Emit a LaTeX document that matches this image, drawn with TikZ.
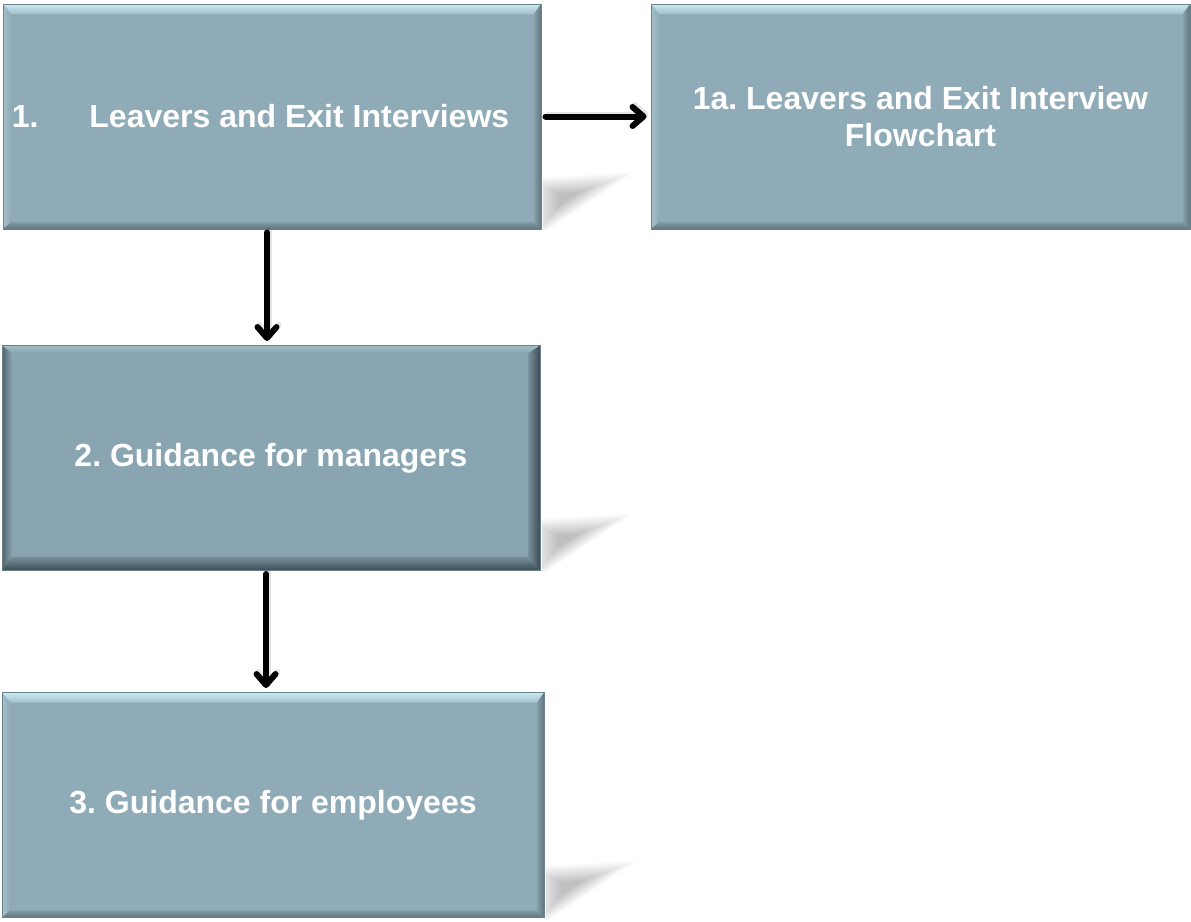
\documentclass[tikz,border=0pt]{standalone}
\usepackage{fontspec}
\setmainfont{Liberation Sans}
\usetikzlibrary{arrows.meta,calc,backgrounds}

\definecolor{boxface}{RGB}{143,171,183}
\definecolor{boxfacedk}{RGB}{137,165,177}
\definecolor{boxline}{RGB}{106,130,140}

% bevel edges of a stage box; widths: top, left, bottom, right
\newcommand\drawbevels[4]{%
	\coordinate (pnw) at (path picture bounding box.north west);
	\coordinate (pne) at (path picture bounding box.north east);
	\coordinate (psw) at (path picture bounding box.south west);
	\coordinate (pse) at (path picture bounding box.south east);
	\shade[top color=bevTo, bottom color=bevTi] (pnw) -- (pne) -- ($(pne)+(-#4,#1)$) -- ($(pnw)+(#2,#1)$) -- cycle;
	\shade[left color=bevLo, right color=bevLi] (pnw) -- ($(pnw)+(#2,#1)$) -- ($(psw)+(#2,-#3)$) -- (psw) -- cycle;
	\shade[top color=bevBi, bottom color=bevBo] (psw) -- ($(psw)+(#2,-#3)$) -- ($(pse)+(-#4,-#3)$) -- (pse) -- cycle;
	\shade[left color=bevRi, right color=bevRo] (pne) -- ($(pne)+(-#4,#1)$) -- ($(pse)+(-#4,-#3)$) -- (pse) -- cycle;
}

\tikzset{
	stage/.style={minimum width=538, minimum height=225, inner sep=0pt,
		fill=boxface, draw=boxline, line width=1pt, text=white,
		font=\fontsize{32}{37}\selectfont\bfseries, align=center,
		path picture={
			\definecolor{bevTo}{RGB}{204,233,241}\definecolor{bevTi}{RGB}{160,192,203}
			\definecolor{bevLo}{RGB}{166,192,202}\colorlet{bevLi}{boxface}
			\definecolor{bevBi}{RGB}{130,155,165}\definecolor{bevBo}{RGB}{96,118,128}
			\definecolor{bevRi}{RGB}{134,159,170}\definecolor{bevRo}{RGB}{96,118,128}
			\drawbevels{10}{8}{7}{7}
		}},
	stagedark/.style={stage, fill=boxfacedk,
		path picture={
			\definecolor{bevTo}{RGB}{160,188,199}\colorlet{bevTi}{boxfacedk}
			\definecolor{bevLo}{RGB}{80,99,108}\colorlet{bevLi}{boxfacedk}
			\definecolor{bevBi}{RGB}{122,147,158}\definecolor{bevBo}{RGB}{60,75,83}
			\definecolor{bevRi}{RGB}{122,147,158}\definecolor{bevRo}{RGB}{60,75,83}
			\drawbevels{8}{10}{14}{12}
		}},
	link/.style={line width=6pt, line cap=round, -{Straight Barb[length=11pt,width=19pt,round]}},
	linkshadow/.style={link, black, opacity=0.1}
}

\begin{document}
\frenchspacing
\begin{tikzpicture}[x=1pt,y=-1pt]
	\useasboundingbox (0,0) rectangle (1191,921);

	% the four stages
	\node[stage] (leavers) at (272,116.5) {1.\hspace{51pt}Leavers and Exit Interviews\hspace*{23pt}};
	\node[stage, minimum width=539] (flowchart) at (920.5,116.5) {1a. Leavers and Exit Interview\\Flowchart};
	\node[stagedark] (managers) at (271,458) {2. Guidance for managers};
	\node[stage, minimum width=542] (employees) at (273,805) {3. Guidance for employees};

	% connectors
	\coordinate (down1) at ($(leavers.south)+(-5,0)$);
	\coordinate (down2) at ($(managers.south)+(-5,0)$);
	\draw[linkshadow, shorten <=4pt, shorten >=4pt] ([xshift=2,yshift=2]leavers.east) -- ([xshift=2,yshift=2]flowchart.west);
	\draw[link, shorten <=4pt, shorten >=4pt] (leavers.east) -- (flowchart.west);
	\draw[linkshadow, shorten <=3pt, shorten >=4pt] ([xshift=2,yshift=2]down1) -- ([xshift=2,yshift=2]down1 |- managers.north);
	\draw[link, shorten <=3pt, shorten >=4pt] (down1) -- (down1 |- managers.north);
	\draw[linkshadow, shorten <=3pt, shorten >=4pt] ([xshift=2,yshift=2]down2) -- ([xshift=2,yshift=2]down2 |- employees.north);
	\draw[link, shorten <=3pt, shorten >=4pt] (down2) -- (down2 |- employees.north);

	% perspective shadows, behind the stages
	\begin{scope}[on background layer]
		\fill[white] (0,0) rectangle (1191,921);
		\foreach \b in {leavers,managers,employees} {
			\begin{scope}
				\clip ($(\b.south east)+(1,0)$) rectangle ++(120,-90);
				\foreach \s in {1.5,1.44,...,0.3}
					\fill[black, opacity=0.012, shift={($(\b.south east)+(24,-32)$)}, scale=\s]
						(-24,30) -- (-24,-13) -- (46,-17) -- cycle;
			\end{scope}
		}
	\end{scope}
\end{tikzpicture}
\end{document}
